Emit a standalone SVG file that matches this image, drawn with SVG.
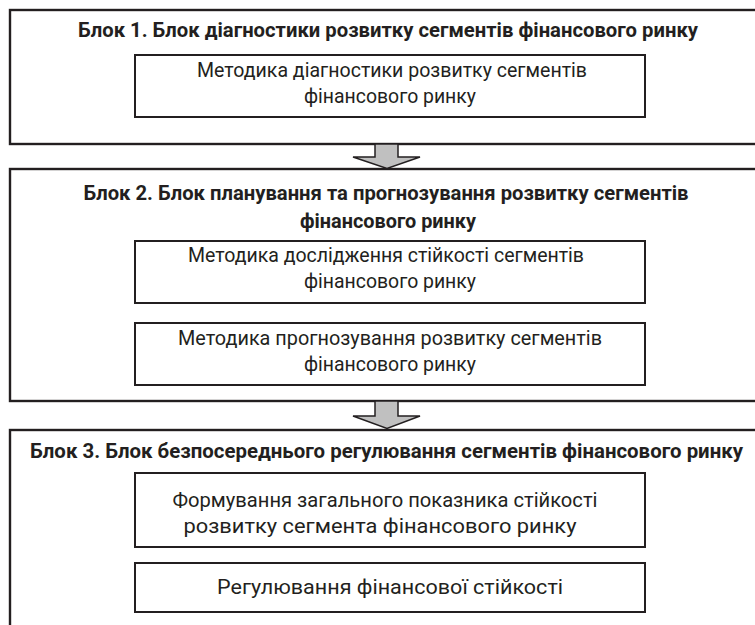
<svg xmlns="http://www.w3.org/2000/svg" width="755" height="625" viewBox="0 0 755 625">
<style>
.outer{fill:none;stroke:#231f20;stroke-width:2.4}
.inner{fill:#fff;stroke:#231f20;stroke-width:2}
.arrow{fill:#c0c0c0;stroke:#231f20;stroke-width:1.5;stroke-linejoin:miter}
.t{font-family:Roboto,"Liberation Sans",sans-serif;fill:#231f20;text-anchor:middle}
.b{font-size:20px;font-weight:bold}
.r{font-size:20px}
</style>
<rect width="755" height="625" fill="#fff"/>
<g id="block1">
<rect class="outer" x="10" y="10" width="749" height="134"/>
<text class="t b" x="388" y="37" textLength="620" lengthAdjust="spacingAndGlyphs">Блок 1. Блок діагностики розвитку сегментів фінансового ринку</text>
</g>
<g id="node1">
<rect class="inner" x="135" y="55" width="510" height="62"/>
<text class="t r" x="392" y="77" textLength="390" lengthAdjust="spacingAndGlyphs">Методика діагностики розвитку сегментів</text>
<text class="t r" x="390" y="103" textLength="172" lengthAdjust="spacingAndGlyphs">фінансового ринку</text>
</g>
<g id="block2">
<rect class="outer" x="10" y="169" width="749" height="232"/>
<text class="t b" x="386" y="200" textLength="605" lengthAdjust="spacingAndGlyphs">Блок 2. Блок планування та прогнозування розвитку сегментів</text>
<text class="t b" x="388" y="228" textLength="176" lengthAdjust="spacingAndGlyphs">фінансового ринку</text>
</g>
<g id="node2">
<rect class="inner" x="135" y="241" width="510" height="62"/>
<text class="t r" x="386" y="262" textLength="396" lengthAdjust="spacingAndGlyphs">Методика дослідження стійкості сегментів</text>
<text class="t r" x="390" y="288" textLength="172" lengthAdjust="spacingAndGlyphs">фінансового ринку</text>
</g>
<g id="node3">
<rect class="inner" x="135" y="323" width="510" height="62"/>
<text class="t r" x="390" y="345" textLength="424" lengthAdjust="spacingAndGlyphs">Методика прогнозування розвитку сегментів</text>
<text class="t r" x="390" y="371" textLength="172" lengthAdjust="spacingAndGlyphs">фінансового ринку</text>
</g>
<g id="block3">
<rect class="outer" x="10" y="430" width="749" height="198"/>
<text class="t b" x="386.5" y="458" textLength="713" lengthAdjust="spacingAndGlyphs">Блок 3. Блок безпосереднього регулювання сегментів фінансового ринку</text>
</g>
<g id="node4">
<rect class="inner" x="135" y="473" width="510" height="74"/>
<text class="t r" x="385" y="507" textLength="425" lengthAdjust="spacingAndGlyphs">Формування загального показника стійкості</text>
<text class="t r" x="380" y="533" textLength="393" lengthAdjust="spacingAndGlyphs">розвитку сегмента фінансового ринку</text>
</g>
<g id="node5">
<rect class="inner" x="135" y="563" width="510" height="49"/>
<text class="t r" x="390" y="594" textLength="346" lengthAdjust="spacingAndGlyphs">Регулювання фінансової стійкості</text>
</g>
<g id="connectors">
<polygon class="arrow" points="375,144 398,144 398,157 420,157 387,168.5 353,157 375,157"/>
<polygon class="arrow" points="375,401 398,401 398,416 420,416 387,428.5 353,416 375,416"/>
</g>
</svg>
